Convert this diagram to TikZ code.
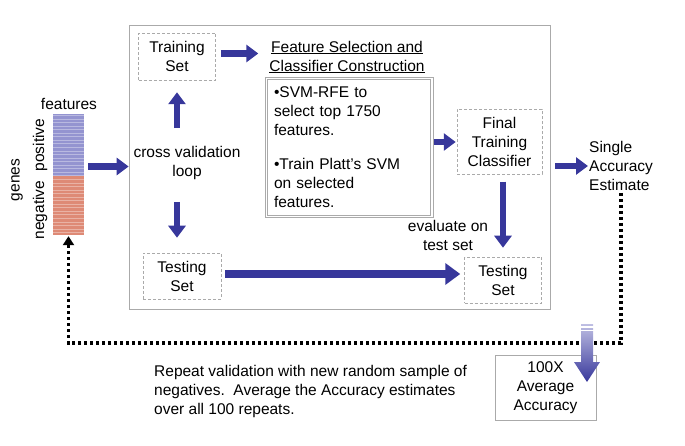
\documentclass[tikz,border=0pt]{standalone}
\usepackage{fontspec}
\setmainfont{Liberation Sans}
\usetikzlibrary{arrows.meta, calc, positioning}

\definecolor{arrowblue}{RGB}{55,55,155}
\definecolor{posblue}{RGB}{148,148,208}
\definecolor{negred}{RGB}{222,138,118}
\definecolor{framegray}{RGB}{170,170,170}

\tikzset{
    lbl/.style={font=\fontsize{15.5}{19}\selectfont, align=center, inner sep=0},
    setbox/.style={lbl, draw=framegray, densely dashed, line width=0.5pt},
    bluearrow/.style={draw=arrowblue, line width=6.5pt, -{Triangle[length=12pt, width=17pt]}},
    bigarrow/.style={draw=arrowblue, line width=8pt, -{Triangle[length=15pt, width=21pt]}},
    dotline/.style={line width=3.5pt, dash pattern=on 3pt off 3pt, -{Triangle[length=9pt, width=11pt]}}
}

\begin{document}
\begin{tikzpicture}[x=1pt, y=-1pt]
    \useasboundingbox (0,0) rectangle (685,446);

    % outer loop frame
    \node[draw=framegray, line width=0.7pt, minimum width=421, minimum height=284, inner sep=0] (outer) at (339.5,167) {};

    % gene matrix
    \node[minimum width=31, minimum height=121, inner sep=0] (bar) at (68.5,174.5) {};
    \fill[posblue] (bar.north west) rectangle ($(bar.east)+(0,1.5)$);
    \fill[negred] ($(bar.west)+(0,1.5)$) rectangle (bar.south east);
    \foreach \k in {0,...,33}
        \draw[white, opacity=0.35, line width=1pt] ($(bar.north west)+(0,\k*3.55+1.8)$) -- ++(31,0);
    \node[lbl] (features) at (69,104) {features};
    \node[lbl, rotate=90] (genes) at (17,180) {genes};
    \node[lbl, rotate=90] (positive) at (40,145) {positive};
    \node[lbl, rotate=90] (negative) at (40,210) {negative};

    % inside the loop
    \node[setbox, minimum width=77, minimum height=47] (train) at (177,56.5) {Training\\Set};
    \node[lbl] (cvl) at (187,163) {cross validation\\loop};
    \node[setbox, minimum width=78, minimum height=46] (testL) at (182,276) {Testing\\Set};
    \node[lbl] (fstitle) at (347,57) {\underline{Feature Selection and}\\\underline{Classifier Construction}};
    \node[lbl, draw=framegray, line width=0.8pt, minimum width=163, minimum height=136, text width=150, align=left] (fsbox) at (349,147.5)
        {\textbullet SVM-RFE to\\select top 1750\\features.\\[15pt]\textbullet Train Platt's SVM\\on selected\\features.};
    \draw[framegray, line width=0.8pt] ($(fsbox.north west)+(-2,-2)$) rectangle ($(fsbox.south east)+(2,2)$);
    \node[setbox, minimum width=85, minimum height=65] (final) at (499.5,142) {Final\\Training\\Classifier};
    \node[lbl] (evaluate) at (448,235) {evaluate on\\test set};
    \node[setbox, minimum width=77, minimum height=46] (testR) at (503,280) {Testing\\Set};

    % outside the loop
    \node[lbl, anchor=west, align=left] (single) at (589,166) {Single\\Accuracy\\Estimate};
    \node[lbl, draw=framegray, line width=0.6pt, minimum width=101, minimum height=65] (avg) at (545.5,387.5) {100X\\Average\\Accuracy};
    \node[lbl, anchor=west, align=left] (repeat) at (154,391)
        {Repeat validation with new random sample of\\negatives.\ \ Average the Accuracy estimates\\over all 100 repeats.};

    % flow
    \draw[bluearrow, shorten <=4pt] ([yshift=8pt]bar.east) -- ([yshift=8pt]bar.east -| outer.west);
    \draw[bluearrow, shorten <=5pt, shorten >=11pt] ([yshift=3pt]train.east) -- ([yshift=3pt]train.east -| fstitle.west);
    \draw[bluearrow, shorten <=18pt, shorten >=12pt] (train.south |- cvl.north) -- (train.south);
    \draw[bluearrow, shorten <=22pt, shorten >=15pt] (train.south |- cvl.south) -- (train.south |- testL.north);
    \draw[bigarrow, shorten <=4pt, shorten >=4pt] ([yshift=2pt]testL.east) -- ([yshift=2pt]testL.east -| testR.west);
    \draw[bluearrow, shorten <=3pt, shorten >=1pt] (fsbox.east |- final.west) -- (final.west);
    \draw[bluearrow, shorten <=7pt, shorten >=9pt] ([xshift=3.5pt]final.south) -- ([xshift=3.5pt]final.south |- testR.north);
    \draw[bluearrow, shorten <=5pt, shorten >=1pt] (outer.east |- single.west) -- (single.west);

    % repeat loop
    \coordinate (turn) at (0,343);
    \draw[dotline, shorten >=1pt] ([yshift=-2pt]single.south) |- (bar.south |- turn) -- (bar.south);

    % averaging arrow
    \shade[top color=posblue!60, bottom color=arrowblue]
        (581,324) -- (593,324) -- (593,362) -- (600,362) -- (587,382) -- (574,362) -- (581,362) -- cycle;
    \foreach \yy in {327, 330.5}
        \draw[white, line width=1.2pt] (580,\yy) -- (594,\yy);
\end{tikzpicture}
\end{document}
